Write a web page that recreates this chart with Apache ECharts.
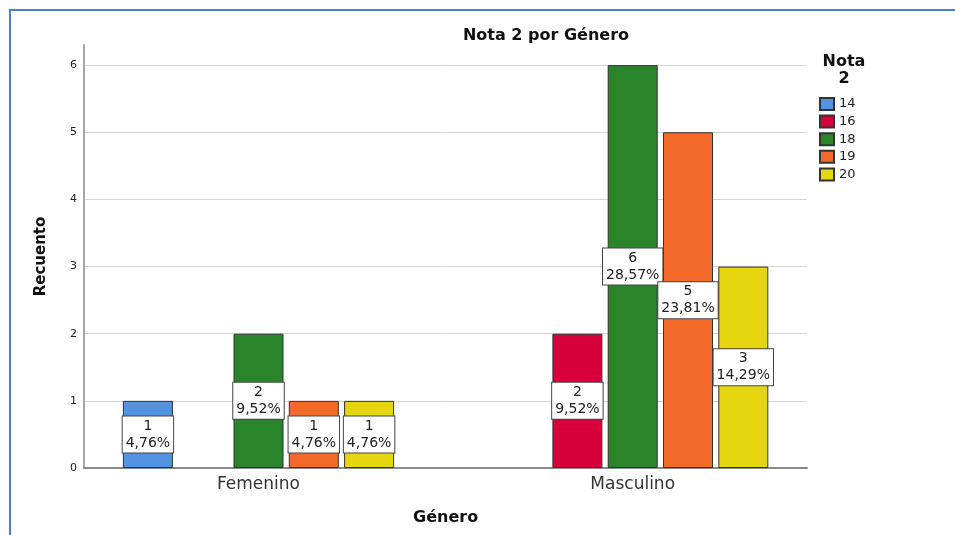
<!DOCTYPE html>
<html>
<head>
<meta charset="utf-8">
<script src="https://cdn.jsdelivr.net/npm/echarts@6/dist/echarts.min.js"></script>
<style>
html,body{margin:0;padding:0;background:#fff;}
#chart{width:955px;height:535px;}
</style>
</head>
<body>
<div id="chart"></div>
<script>
// ---- data ----
const categories = ['Femenino', 'Masculino'];
const notas = ['14', '16', '18', '19', '20'];
const count14 = [1, null];
const count16 = [null, 2];
const count18 = [2, 6];
const count19 = [1, 5];
const count20 = [1, 3];
const pct14 = ['4,76%', ''];
const pct16 = ['', '9,52%'];
const pct18 = ['9,52%', '28,57%'];
const pct19 = ['4,76%', '23,81%'];
const pct20 = ['4,76%', '14,29%'];
const yTicks = [0, 1, 2, 3, 4, 5, 6];

const counts = [count14, count16, count18, count19, count20];
const pcts = [pct14, pct16, pct18, pct19, pct20];
const colors = ['#5294e2', '#d7003a', '#2a842a', '#f36a2b', '#e5d610'];

const FONT = 'DejaVu Sans';
const chart = echarts.init(document.getElementById('chart'), null, {renderer: 'canvas'});

const series = notas.map((n, i) => ({
  name: n,
  type: 'bar',
  xAxisIndex: 0,
  yAxisIndex: 0,
  barWidth: 50,
  barGap: '10.6%',
  data: counts[i].map(v => (v === null ? '-' : v)),
  itemStyle: {color: colors[i], borderColor: '#333', borderWidth: 1},
  label: {
    show: true,
    position: 'inside',
    formatter: p => p.value + '\n' + pcts[i][p.dataIndex],
    fontFamily: FONT,
    fontSize: 14,
    lineHeight: 17,
    color: '#222',
    backgroundColor: '#fff',
    borderColor: '#444',
    borderWidth: 1,
    padding: [1, 3, 1, 3],
    align: 'center'
  },
  emphasis: {disabled: true}
}));

const option = {
  animation: false,
  backgroundColor: '#fff',
  title: [
    {
      text: 'Nota 2 por Género',
      left: 541, top: 23, textAlign: 'center',
      textStyle: {fontFamily: FONT, fontSize: 16, fontWeight: 'bold', color: '#111'}
    },
    {
      text: 'Nota\n2',
      left: 839, top: 48, textAlign: 'center',
      textStyle: {fontFamily: FONT, fontSize: 16, fontWeight: 'bold', color: '#111', lineHeight: 17}
    }
  ],
  legend: {
    data: notas,
    orient: 'vertical',
    left: 819, top: 97,
    padding: 0,
    itemWidth: 14, itemHeight: 12, itemGap: 3.6,
    icon: 'rect',
    textStyle: {fontFamily: FONT, fontSize: 13, color: '#222'},
    selectedMode: false
  },
  grid: [
    {left: 71.4, top: 45, width: 748.4, height: 423, containLabel: false},
    {left: 84, top: 45, width: 723, height: 423, containLabel: false}
  ],
  xAxis: [
    {
      gridIndex: 0, type: 'category', data: categories,
      axisLine: {show: false}, axisTick: {show: false},
      axisLabel: {fontFamily: FONT, fontSize: 17, color: '#333', margin: 8},
      name: 'Género', nameLocation: 'middle', nameGap: 42,
      nameTextStyle: {fontFamily: FONT, fontSize: 16, fontWeight: 'bold', color: '#111'}
    },
    {
      gridIndex: 1, type: 'value', min: 0, max: 1,
      axisLine: {show: true, onZero: false, lineStyle: {color: '#8c8c8c', width: 2}},
      axisTick: {show: false}, axisLabel: {show: false}, splitLine: {show: false}
    }
  ],
  yAxis: [
    {
      gridIndex: 0, type: 'value', min: 0, max: 6.3, interval: 1,
      show: false
    },
    {
      gridIndex: 1, type: 'value', min: 0, max: 6.3, interval: 1,
      axisLine: {show: true, lineStyle: {color: '#a6a6a6', width: 2}},
      axisTick: {show: false},
      axisLabel: {
        fontFamily: FONT, fontSize: 11, color: '#222', margin: 7,
        showMaxLabel: false,
        formatter: v => (yTicks.indexOf(v) >= 0 ? String(v) : '')
      },
      splitLine: {show: true, showMaxLine: false, showMinLine: false, lineStyle: {color: '#d4d4d4', width: 1}},
      name: 'Recuento', nameLocation: 'middle', nameGap: 35, nameRotate: 90,
      nameTextStyle: {fontFamily: FONT, fontSize: 15, fontWeight: 'bold', color: '#111'}
    }
  ],
  graphic: [
    {type: 'line', shape: {x1: 9, y1: 10, x2: 955, y2: 10}, style: {stroke: '#4a7fdc', lineWidth: 2}, z: 100},
    {type: 'line', shape: {x1: 10, y1: 9, x2: 10, y2: 535}, style: {stroke: '#4a7fdc', lineWidth: 2}, z: 100}
  ],
  series: series
};
chart.setOption(option);
</script>
</body>
</html>
